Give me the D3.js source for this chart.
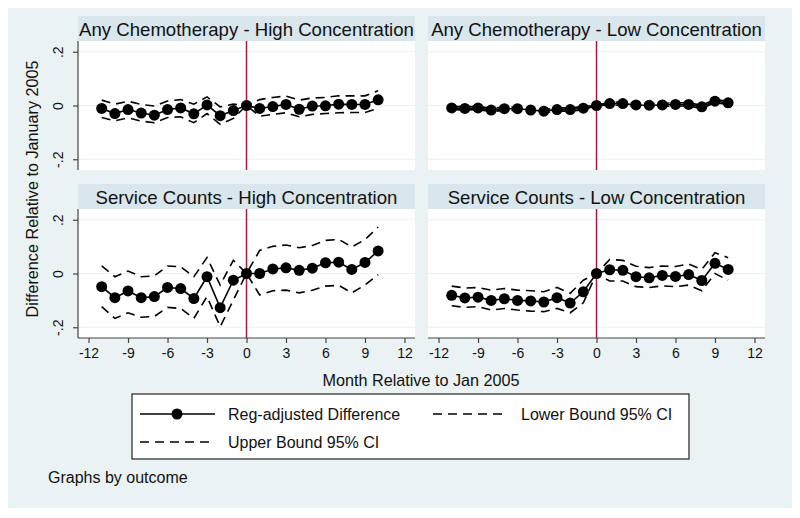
<!DOCTYPE html>
<html>
<head>
<meta charset="utf-8">
<script src="https://cdn.jsdelivr.net/npm/d3@7"></script>
<style>
  html, body { margin: 0; padding: 0; background: #ffffff; }
  svg { display: block; font-family: "Liberation Sans", Arial, Helvetica, sans-serif; }
</style>
</head>
<body>
<svg id="chart" width="800" height="518"></svg>
<script>
// ---------------- DATA ----------------
const months = [-11, -10, -9, -8, -7, -6, -5, -4, -3, -2, -1, 0, 1, 2, 3, 4, 5, 6, 7, 8, 9, 10];

const panelTitles = [
  "Any Chemotherapy - High Concentration",
  "Any Chemotherapy - Low Concentration",
  "Service Counts - High Concentration",
  "Service Counts - Low Concentration"
];

// Any Chemotherapy - High Concentration
const chemoHighEst = [-0.011, -0.030, -0.015, -0.028, -0.036, -0.015, -0.009, -0.031, 0.002, -0.038, -0.019, 0, -0.011, -0.004, 0.004, -0.014, -0.002, -0.001, 0.005, 0.004, 0.004, 0.021];
const chemoHighLo  = [-0.045, -0.057, -0.046, -0.058, -0.064, -0.045, -0.042, -0.064, -0.030, -0.070, -0.048, 0, -0.040, -0.033, -0.027, -0.042, -0.033, -0.030, -0.027, -0.026, -0.026, -0.011];
const chemoHighHi  = [0.020, 0.005, 0.016, 0.004, -0.002, 0.017, 0.022, 0.005, 0.032, -0.005, 0.005, 0, 0.022, 0.030, 0.035, 0.020, 0.028, 0.030, 0.036, 0.036, 0.036, 0.055];

// Any Chemotherapy - Low Concentration
const chemoLowEst = [-0.009, -0.011, -0.009, -0.017, -0.012, -0.012, -0.017, -0.021, -0.015, -0.015, -0.010, 0, 0.007, 0.007, 0.002, 0.001, 0.002, 0.004, 0.004, -0.005, 0.016, 0.010];
const chemoLowLo  = [-0.015, -0.017, -0.015, -0.023, -0.018, -0.018, -0.023, -0.027, -0.021, -0.021, -0.016, 0, 0.001, 0.001, -0.004, -0.005, -0.004, -0.002, -0.002, -0.011, 0.010, 0.004];
const chemoLowHi  = [-0.003, -0.005, -0.003, -0.011, -0.006, -0.006, -0.011, -0.015, -0.009, -0.009, -0.004, 0, 0.013, 0.013, 0.008, 0.007, 0.008, 0.010, 0.010, 0.001, 0.022, 0.016];

// Service Counts - High Concentration
const servHighEst = [-0.049, -0.090, -0.065, -0.090, -0.086, -0.052, -0.056, -0.093, -0.012, -0.127, -0.025, 0, 0.000, 0.017, 0.021, 0.012, 0.020, 0.040, 0.042, 0.015, 0.041, 0.084];
const servHighLo  = [-0.123, -0.167, -0.146, -0.163, -0.160, -0.126, -0.130, -0.167, -0.086, -0.198, -0.099, 0, -0.080, -0.064, -0.062, -0.072, -0.062, -0.047, -0.044, -0.072, -0.043, -0.004];
const servHighHi  = [0.028, -0.012, 0.009, -0.012, -0.009, 0.028, 0.025, -0.012, 0.059, -0.043, 0.049, 0, 0.086, 0.101, 0.106, 0.096, 0.104, 0.123, 0.127, 0.099, 0.126, 0.173];

// Service Counts - Low Concentration
const servLowEst = [-0.081, -0.091, -0.088, -0.100, -0.094, -0.100, -0.102, -0.106, -0.090, -0.110, -0.068, 0, 0.014, 0.012, -0.012, -0.016, -0.007, -0.011, -0.004, -0.026, 0.038, 0.015];
const servLowLo  = [-0.120, -0.126, -0.123, -0.136, -0.130, -0.136, -0.140, -0.142, -0.130, -0.146, -0.109, 0, -0.028, -0.028, -0.049, -0.052, -0.046, -0.049, -0.043, -0.064, 0.000, -0.025];
const servLowHi  = [-0.047, -0.054, -0.052, -0.062, -0.056, -0.062, -0.064, -0.068, -0.052, -0.074, -0.025, 0, 0.052, 0.049, 0.027, 0.022, 0.028, 0.026, 0.035, 0.015, 0.077, 0.059];

const xTickValues = [-12, -9, -6, -3, 0, 3, 6, 9, 12];
const xTickLabels = ["-12", "-9", "-6", "-3", "0", "3", "6", "9", "12"];
const yTickValues = [-0.2, 0, 0.2];
const yTickLabels = ["-.2", "0", ".2"];

const legendLabels = ["Reg-adjusted Difference", "Lower Bound 95% CI", "Upper Bound 95% CI"];
const yTitle = "Difference Relative to January 2005";
const xTitle = "Month Relative to Jan 2005";
const noteText = "Graphs by outcome";

// ---------------- LAYOUT ----------------
const panels = [
  { title: panelTitles[0], est: chemoHighEst, lo: chemoHighLo, hi: chemoHighHi, col: 0, row: 0 },
  { title: panelTitles[1], est: chemoLowEst,  lo: chemoLowLo,  hi: chemoLowHi,  col: 1, row: 0 },
  { title: panelTitles[2], est: servHighEst,  lo: servHighLo,  hi: servHighHi,  col: 0, row: 1 },
  { title: panelTitles[3], est: servLowEst,   lo: servLowLo,   hi: servLowHi,   col: 1, row: 1 }
];

const colLeft = [78, 428];
const plotW = 337;
const rowStripTop = [16, 184];
const stripH = 25;
const plotH = 129;

const BG = "#eaf2f3";
const STRIP = "#d9e6eb";
const GRID = "#eaf2f3";
const RED = "#a51c3e";
const DASH = "9,6";
const FONT = "Liberation Sans, Arial, sans-serif";

const svg = d3.select("#chart");

svg.append("rect").attr("x", 8).attr("y", 8).attr("width", 784).attr("height", 500).attr("fill", BG);

const x = d3.scaleLinear().domain([-12.8, 12.8]).range([0, plotW]);
const y = d3.scaleLinear().domain([-0.24, 0.24]).range([plotH, 0]);

panels.forEach(p => {
  const left = colLeft[p.col];
  const stripTop = rowStripTop[p.row];
  const plotTop = stripTop + stripH;

  // strip title
  svg.append("rect").attr("x", left).attr("y", stripTop).attr("width", plotW).attr("height", stripH).attr("fill", STRIP);
  svg.append("text").attr("x", left + plotW / 2).attr("y", stripTop + 19.5)
    .attr("text-anchor", "middle").attr("font-size", 18.6).attr("fill", "#111").text(p.title);

  const g = svg.append("g").attr("transform", `translate(${left},${plotTop})`);
  g.append("rect").attr("width", plotW).attr("height", plotH).attr("fill", "#ffffff");

  // gridlines
  g.selectAll("line.grid").data(yTickValues).enter().append("line")
    .attr("x1", 0).attr("x2", plotW)
    .attr("y1", d => y(d)).attr("y2", d => y(d))
    .attr("stroke", GRID).attr("stroke-width", 1.2);

  // reference line at 0
  g.append("line").attr("x1", x(0)).attr("x2", x(0)).attr("y1", 0).attr("y2", plotH)
    .attr("stroke", RED).attr("stroke-width", 1.5);

  const line = arr => d3.line().x((d, i) => x(months[i])).y(d => y(d))(arr);

  g.append("path").attr("d", line(p.lo)).attr("fill", "none").attr("stroke", "#000")
    .attr("stroke-width", 1.6).attr("stroke-dasharray", DASH);
  g.append("path").attr("d", line(p.hi)).attr("fill", "none").attr("stroke", "#000")
    .attr("stroke-width", 1.6).attr("stroke-dasharray", DASH);
  g.append("path").attr("d", line(p.est)).attr("fill", "none").attr("stroke", "#000")
    .attr("stroke-width", 1.6);
  g.selectAll("circle.pt").data(p.est).enter().append("circle")
    .attr("cx", (d, i) => x(months[i])).attr("cy", d => y(d)).attr("r", 5.5).attr("fill", "#000");

  // y axis (left column)
  if (p.col === 0) {
    const ya = g.append("g").call(
      d3.axisLeft(y).tickValues(yTickValues).tickSize(5).tickPadding(6)
        .tickFormat((d, i) => yTickLabels[i])
    );
    ya.select(".domain").attr("d", `M0,0V${plotH}`).attr("stroke", "#444").attr("stroke-width", 1.2);
    ya.selectAll(".tick line").attr("stroke", "#444").attr("stroke-width", 1.2);
    ya.selectAll(".tick text")
      .attr("font-size", 14).attr("font-family", FONT).attr("fill", "#111")
      .attr("transform", "rotate(-90)")
      .attr("x", 0).attr("y", -15).attr("dy", 0)
      .attr("text-anchor", "middle");
  }

  // x axis (bottom row)
  if (p.row === 1) {
    const xa = g.append("g").attr("transform", `translate(0,${plotH})`).call(
      d3.axisBottom(x).tickValues(xTickValues).tickSize(5).tickPadding(5)
        .tickFormat((d, i) => xTickLabels[i])
    );
    xa.select(".domain").attr("d", `M0,0H${plotW}`).attr("stroke", "#444").attr("stroke-width", 1.2);
    xa.selectAll(".tick line").attr("stroke", "#444").attr("stroke-width", 1.2);
    xa.selectAll(".tick text").attr("font-size", 14)
      .attr("font-family", FONT).attr("fill", "#111");
  }
});

// axis titles
svg.append("text").attr("transform", "translate(38,189) rotate(-90)")
  .attr("text-anchor", "middle").attr("font-size", 16.2).attr("fill", "#111").text(yTitle);
svg.append("text").attr("x", 421).attr("y", 386)
  .attr("text-anchor", "middle").attr("font-size", 16.2).attr("fill", "#111").text(xTitle);

// legend
const leg = svg.append("g");
leg.append("rect").attr("x", 132).attr("y", 394).attr("width", 557).attr("height", 65)
  .attr("fill", "#fff").attr("stroke", "#222").attr("stroke-width", 1.2);

const legendItems = [
  { label: legendLabels[0], x: 140, y: 414, type: "solid" },
  { label: legendLabels[1], x: 433, y: 414, type: "dash" },
  { label: legendLabels[2], x: 140, y: 442, type: "dash" }
];
legendItems.forEach(it => {
  leg.append("line").attr("x1", it.x).attr("x2", it.x + 75).attr("y1", it.y).attr("y2", it.y)
    .attr("stroke", "#000").attr("stroke-width", 1.6)
    .attr("stroke-dasharray", it.type === "dash" ? DASH : null);
  if (it.type === "solid") {
    leg.append("circle").attr("cx", it.x + 37).attr("cy", it.y).attr("r", 5.5).attr("fill", "#000");
  }
  leg.append("text").attr("x", it.x + 88).attr("y", it.y + 5.5).attr("font-size", 16)
    .attr("fill", "#111").text(it.label);
});

svg.append("text").attr("x", 48).attr("y", 483).attr("font-size", 16).attr("fill", "#111").text(noteText);
</script>
</body>
</html>
